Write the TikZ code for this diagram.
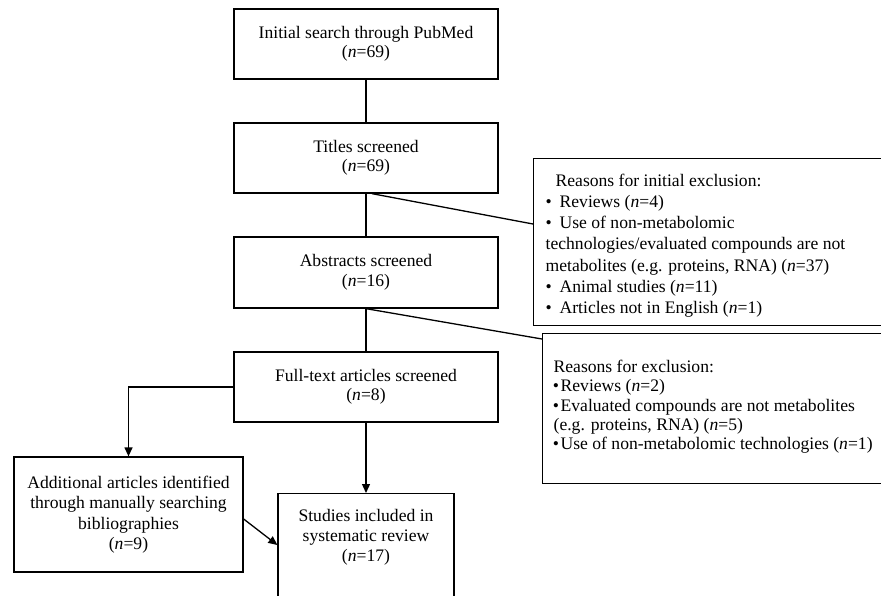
\documentclass[tikz,border=0pt]{standalone}
\usepackage{fontspec}
\setmainfont{Liberation Serif}
\usetikzlibrary{arrows.meta,calc}
\begin{document}
\begin{tikzpicture}[x=1pt,y=-1pt,
  box/.style={draw, line width=1.3pt, minimum width=264pt, minimum height=70pt,
    align=center, inner sep=0pt, font=\fontsize{17.6}{19.5}\selectfont},
  link/.style={line width=1.3pt},
  arrow/.style={link, -{Triangle[length=9pt,width=8pt]}}]
\useasboundingbox (0,0) rectangle (881,595);
\clip (0,0) rectangle (881,595);
\fill[white] (0,0) rectangle (881,595);

\node[box] (init) at (366,44) {Initial search through PubMed\\(\textit{n}=69)};
\node[box] (titles) at (366,158) {Titles screened\\(\textit{n}=69)};
\node[box, minimum height=71pt] (abstracts) at (366,272.5) {Abstracts screened\\(\textit{n}=16)};
\node[box] (fulltext) at (366,387) {Full-text articles screened\\(\textit{n}=8)};
\node[box, minimum width=229pt, minimum height=115pt, font=\fontsize{17.6}{20.5}\selectfont]
  (additional) at (128.5,514.5) {Additional articles identified\\through manually searching\\bibliographies\\(\textit{n}=9)};
\node[box, anchor=north, minimum width=0pt, minimum height=0pt] (studies) at (366,493)
  {\parbox[t][140pt][t]{176pt}{\centering\fontsize{17.6}{20}\selectfont\rule{0pt}{28pt}Studies included in\\systematic review\\(\textit{n}=17)}};

\node[box, anchor=north west, minimum width=0pt, minimum height=0pt, align=left] (excl1) at (533,158)
  {\parbox[t][167pt][t]{360pt}{\raggedright\leftskip=12pt\fontsize{17.6}{21.2}\selectfont
  \rule{0pt}{27.7pt}\hspace*{10pt}Reasons for initial exclusion:\\
  \makebox[14pt][l]{•}Reviews (\textit{n}=4)\\
  \makebox[14pt][l]{•}Use of non-metabolomic\\
  technologies/evaluated compounds are not\\
  metabolites (e.g. proteins, RNA) (\textit{n}=37)\\
  \makebox[14pt][l]{•}Animal studies (\textit{n}=11)\\
  \makebox[14pt][l]{•}Articles not in English (\textit{n}=1)}};

\node[box, anchor=north west, minimum width=0pt, minimum height=0pt, align=left] (excl2) at (542,333)
  {\parbox[t][150pt][t]{360pt}{\raggedright\leftskip=11pt\fontsize{17.6}{19.4}\selectfont
  \rule{0pt}{38.7pt}Reasons for exclusion:\\
  \makebox[7pt][l]{\hspace{-0.8pt}•}Reviews (\textit{n}=2)\\
  \makebox[7pt][l]{\hspace{-0.8pt}•}Evaluated compounds are not metabolites\\
  (e.g. proteins, RNA) (\textit{n}=5)\\
  \makebox[7pt][l]{\hspace{-0.8pt}•}Use of non-metabolomic technologies (\textit{n}=1)}};

\draw[link] (init.south) -- (titles.north);
\draw[link] (titles.south) -- (abstracts.north);
\draw[link] (abstracts.south) -- (fulltext.north);
\draw[link] ($(titles.south)+(6,0)$) -- ($(excl1.north west)+(0,66)$);
\draw[link] (abstracts.south) -- ($(excl2.north west)+(0,6)$);
\draw[arrow] (fulltext.west) -| (additional.north);
\draw[arrow] (fulltext.south) -- (studies.north);
\draw[arrow] ($(additional.east)+(0,4.5)$) -- ($(studies.north west)+(0,52)$);
\end{tikzpicture}
\end{document}
